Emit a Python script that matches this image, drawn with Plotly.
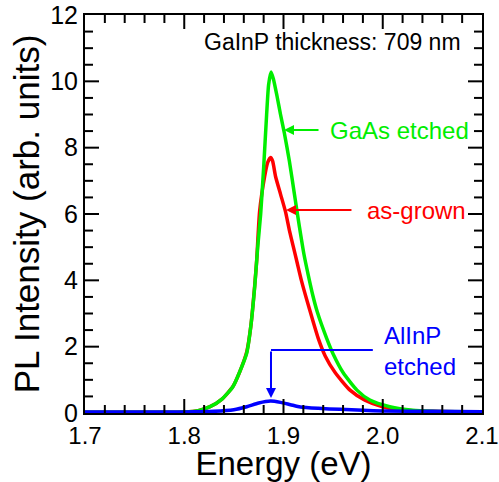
import plotly.graph_objects as go

# Data
energy_green = [1.70, 1.76, 1.80, 1.815, 1.826, 1.838, 1.849, 1.856, 1.863, 1.867, 1.871, 1.874,
                1.877, 1.880, 1.883, 1.885, 1.8875, 1.890, 1.8935, 1.897, 1.9008, 1.9059, 1.9109,
                1.916, 1.9205, 1.925, 1.9295, 1.934, 1.9435, 1.950, 1.960, 1.974, 1.987, 2.007,
                2.03, 2.05, 2.10]
pl_gaas_etched = [0.02, 0.02, 0.03, 0.08, 0.19, 0.42, 0.79, 1.25, 1.81, 2.6, 3.81, 5.0,
                  6.0, 7.4, 9.0, 9.9, 10.28, 10.05, 9.55, 9.0, 8.45, 7.6, 6.62,
                  5.62, 4.8, 4.15, 3.55, 3.05, 2.25, 1.78, 1.22, 0.69, 0.39, 0.19,
                  0.08, 0.05, 0.03]

energy_red = [1.70, 1.76, 1.80, 1.815, 1.826, 1.838, 1.849, 1.856, 1.863, 1.867, 1.871, 1.873,
              1.876, 1.881, 1.884, 1.887, 1.889, 1.892, 1.897, 1.902, 1.906, 1.910, 1.914,
              1.918, 1.926, 1.935, 1.942, 1.952, 1.967, 1.982, 2.000, 2.02, 2.05, 2.10]
pl_as_grown = [0.02, 0.02, 0.03, 0.08, 0.19, 0.42, 0.80, 1.25, 1.85, 2.6, 3.85, 4.61,
               6.1, 7.13, 7.55, 7.7, 7.6, 7.13, 6.6, 6.07, 5.5, 5.0, 4.5,
               4.0, 3.15, 2.25, 1.72, 1.22, 0.69, 0.39, 0.19, 0.09, 0.05, 0.03]

energy_blue = [1.70, 1.75, 1.80, 1.83, 1.85, 1.863, 1.875, 1.887, 1.897, 1.907, 1.917, 1.935,
               1.957, 1.98, 2.00, 2.05, 2.10]
pl_alinp_etched = [0.03, 0.03, 0.03, 0.05, 0.10, 0.19, 0.30, 0.36, 0.32, 0.25, 0.18, 0.14,
                   0.11, 0.08, 0.06, 0.05, 0.04]

x_tickvals = [1.7, 1.8, 1.9, 2.0, 2.1]
x_ticktext = ["1.7", "1.8", "1.9", "2.0", "2.1"]
y_tickvals = [0, 2, 4, 6, 8, 10, 12]
X_RANGE = [1.7, 2.1]
Y_RANGE = [0, 12]
X_MINOR_STEP = 0.02
Y_MINOR_STEP = 0.5

W, H = 499, 482
MARGIN = dict(l=85, r=17, t=15, b=69)

GREEN = "#00ee00"
RED = "#ff0000"
BLUE = "#0000ff"
FONT = "Arial, Liberation Sans, sans-serif"

fig = go.Figure()
fig.add_trace(go.Scatter(x=energy_red, y=pl_as_grown, mode="lines", line=dict(color=RED, width=3.5, shape="spline", smoothing=0.6)))
fig.add_trace(go.Scatter(x=energy_green, y=pl_gaas_etched, mode="lines", line=dict(color=GREEN, width=3.5, shape="spline", smoothing=0.6)))
fig.add_trace(go.Scatter(x=energy_blue, y=pl_alinp_etched, mode="lines", line=dict(color=BLUE, width=3.5, shape="spline", smoothing=0.6)))

# Inward-pointing ticks on all four sides, built from the axis tick steps
plot_w = W - MARGIN["l"] - MARGIN["r"]
plot_h = H - MARGIN["t"] - MARGIN["b"]
x_per_px = (X_RANGE[1] - X_RANGE[0]) / plot_w
y_per_px = (Y_RANGE[1] - Y_RANGE[0]) / plot_h
tx, ty = [], []
n_x_minor = int(round((X_RANGE[1] - X_RANGE[0]) / X_MINOR_STEP))
for i in range(1, n_x_minor):
    xv = round(X_RANGE[0] + i * X_MINOR_STEP, 4)
    length = 14 if any(abs(xv - t) < 1e-6 for t in x_tickvals) else 8
    tx += [xv, xv, None, xv, xv, None]
    ty += [Y_RANGE[0], Y_RANGE[0] + length * y_per_px, None,
           Y_RANGE[1], Y_RANGE[1] - length * y_per_px, None]
n_y_minor = int(round((Y_RANGE[1] - Y_RANGE[0]) / Y_MINOR_STEP))
for i in range(1, n_y_minor):
    yv = round(Y_RANGE[0] + i * Y_MINOR_STEP, 4)
    length = 14 if any(abs(yv - t) < 1e-6 for t in y_tickvals) else 8
    tx += [X_RANGE[0], X_RANGE[0] + length * x_per_px, None,
           X_RANGE[1], X_RANGE[1] - length * x_per_px, None]
    ty += [yv, yv, None, yv, yv, None]
fig.add_trace(go.Scatter(x=tx, y=ty, mode="lines", line=dict(color="black", width=2),
                         hoverinfo="skip", showlegend=False, connectgaps=False))

ann = []
ann.append(dict(x=2.0809, y=11.18, xref="x", yref="y", text="GaInP thickness: 709 nm", showarrow=False,
                xanchor="right", yanchor="middle", font=dict(family=FONT, size=23, color="black")))
ann.append(dict(x=1.9448, y=8.53, xref="x", yref="y", text="GaAs etched", showarrow=False,
                xanchor="left", yanchor="middle", font=dict(family=FONT, size=24, color=GREEN)))
ann.append(dict(x=1.982, y=6.12, xref="x", yref="y", text="as-grown", showarrow=False,
                xanchor="left", yanchor="middle", font=dict(family=FONT, size=24, color=RED)))
ann.append(dict(x=1.9993, y=1.87, xref="x", yref="y", text="AlInP<br>etched", showarrow=False,
                xanchor="left", yanchor="middle", align="left", font=dict(family=FONT, size=24, color=BLUE)))
ann.append(dict(x=1.9005, y=8.53, ax=1.9368, ay=8.53, xref="x", yref="y", axref="x", ayref="y", text="",
                showarrow=True, arrowhead=2, arrowsize=1, arrowwidth=2, arrowcolor=GREEN))
ann.append(dict(x=1.9025, y=6.12, ax=1.970, ay=6.12, xref="x", yref="y", axref="x", ayref="y", text="",
                showarrow=True, arrowhead=2, arrowsize=1, arrowwidth=2, arrowcolor=RED))
ann.append(dict(x=1.8874, y=0.45, ax=1.8874, ay=1.90, xref="x", yref="y", axref="x", ayref="y", text="",
                showarrow=True, arrowhead=2, arrowsize=1, arrowwidth=2, arrowcolor=BLUE))

fig.add_shape(type="line", x0=1.8874, x1=1.990, y0=1.90, y1=1.90, xref="x", yref="y",
              line=dict(color=BLUE, width=2))

fig.update_layout(
    xaxis=dict(range=X_RANGE, tickmode="array", tickvals=x_tickvals, ticktext=x_ticktext,
               ticklabeloverflow="allow", automargin=False,
               showline=True, linecolor="black", linewidth=2, mirror=True, ticks="",
               showgrid=False, zeroline=False,
               tickfont=dict(family=FONT, size=24, color="black"),
               title=dict(text="Energy (eV)", font=dict(family=FONT, size=33, color="black"), standoff=0)),
    yaxis=dict(range=Y_RANGE, tickmode="array", tickvals=y_tickvals, automargin=False,
               showline=True, linecolor="black", linewidth=2, mirror=True, ticks="",
               showgrid=False, zeroline=False,
               tickfont=dict(family=FONT, size=25, color="black"),
               title=dict(text="PL Intensity (arb. units)", font=dict(family=FONT, size=35, color="black"), standoff=0)),
    width=W, height=H, margin=MARGIN,
    plot_bgcolor="white", paper_bgcolor="white", showlegend=False,
    annotations=ann)

fig.write_html("out.html")
